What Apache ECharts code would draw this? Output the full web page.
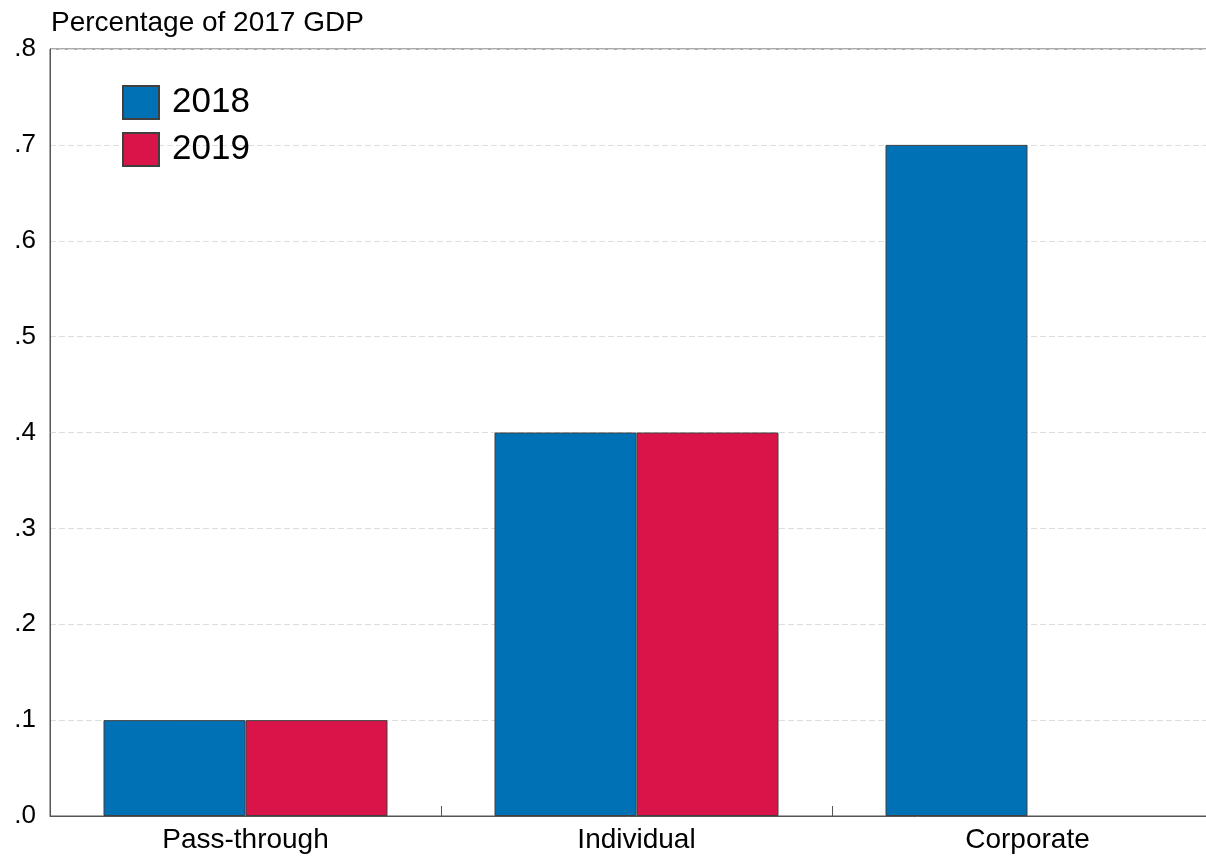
<!DOCTYPE html>
<html>
<head>
<meta charset="utf-8">
<script src="https://cdn.jsdelivr.net/npm/echarts@6/dist/echarts.min.js"></script>
<style>
  html, body { margin: 0; padding: 0; background: #fff; overflow: hidden; }
  #container { width: 1206px; height: 857px; }
</style>
</head>
<body>
<div id="container"></div>
<script>
// values
var categories = ['Pass-through', 'Individual', 'Corporate'];
var values2018 = [0.1, 0.4, 0.7];
var values2019 = [0.1, 0.4, null];
var seriesNames = ['2018', '2019'];

var font = 'Liberation Sans, Arial, sans-serif';

var chart = echarts.init(document.getElementById('container'));

chart.setOption({
    animation: false,
    backgroundColor: '#fff',
    title: {
        text: 'Percentage of 2017 GDP',
        left: 51,
        top: 9,
        padding: 0,
        textStyle: { fontFamily: font, fontSize: 28, fontWeight: 'normal', color: '#000' }
    },
    legend: {
        orient: 'vertical',
        left: 122,
        top: 85,
        padding: 0,
        itemWidth: 36,
        itemHeight: 33,
        itemGap: 12,
        icon: 'rect',
        data: seriesNames,
        textStyle: { fontFamily: font, fontSize: 35, color: '#000', padding: [0, 0, 0, 8] }
    },
    grid: {
        left: 50,
        width: 1173,
        top: 49,
        bottom: 41,
        outerBoundsMode: 'none',
        containLabel: false,
        show: true,
        borderColor: '#555',
        borderWidth: 1
    },
    xAxis: {
        type: 'category',
        data: categories,
        axisLine: { lineStyle: { color: '#555', width: 1 } },
        axisTick: { show: true, inside: true, length: 10, lineStyle: { color: '#555' } },
        axisLabel: { fontFamily: font, fontSize: 28, color: '#000', margin: 10 }
    },
    yAxis: {
        type: 'value',
        min: 0,
        max: 0.8,
        interval: 0.1,
        axisLine: { show: true, lineStyle: { color: '#555', width: 1 } },
        axisTick: { show: false },
        axisLabel: {
            fontFamily: font, fontSize: 26, color: '#000', margin: 14,
            formatter: function (v) { return v.toFixed(1).replace(/^0/, ''); }
        },
        splitLine: { show: true, lineStyle: { color: '#ddd', type: [6, 3], width: 1 } }
    },
    series: [
        {
            name: seriesNames[0],
            type: 'bar',
            data: values2018,
            barWidth: 142,
            barGap: 0,
            itemStyle: { color: '#0171b6', borderColor: '#404040', borderWidth: 1 }
        },
        {
            name: seriesNames[1],
            type: 'bar',
            data: values2019,
            barWidth: 142,
            barGap: 0,
            itemStyle: { color: '#d91449', borderColor: '#404040', borderWidth: 1 }
        }
    ]
});
</script>
</body>
</html>
